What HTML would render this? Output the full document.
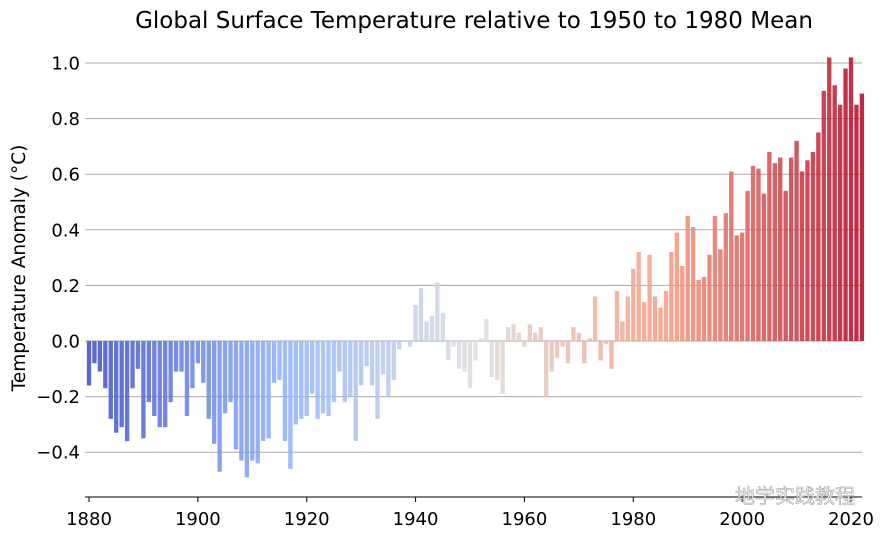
<!DOCTYPE html>
<html><head><meta charset="utf-8"><style>
body{margin:0;background:#fff;}
svg text{font-family:"DejaVu Sans","Liberation Sans",sans-serif;}
</style></head><body>
<svg id="chart" width="882" height="537" xmlns="http://www.w3.org/2000/svg">
<text x="474" y="28" font-size="23" text-anchor="middle" fill="#000">Global Surface Temperature relative to 1950 to 1980 Mean</text>
<text transform="translate(25,268) rotate(-90)" font-size="18.5" text-anchor="middle" fill="#000">Temperature Anomaly (°C)</text>
<g id="grid"></g><g id="bars"></g><g id="axes"></g>
<text x="855" y="503" font-size="20" text-anchor="end" fill="#eee" stroke="#999" stroke-width="0.5" style="font-family:'Liberation Sans','Noto Sans CJK SC',sans-serif">地学实践教程</text>
</svg>
<script>
const startYear = 1880;
const anomalies = [-0.16,-0.08,-0.11,-0.17,-0.28,-0.33,-0.31,-0.36,-0.17,-0.10,-0.35,-0.22,-0.27,-0.31,-0.31,-0.22,-0.11,-0.11,-0.27,-0.17,-0.08,-0.15,-0.28,-0.37,-0.47,-0.26,-0.22,-0.39,-0.43,-0.49,-0.43,-0.44,-0.36,-0.35,-0.15,-0.14,-0.36,-0.46,-0.30,-0.28,-0.27,-0.19,-0.28,-0.26,-0.27,-0.22,-0.11,-0.22,-0.20,-0.36,-0.16,-0.09,-0.16,-0.28,-0.12,-0.20,-0.14,-0.03,0.00,-0.02,0.13,0.19,0.07,0.09,0.21,0.10,-0.07,-0.02,-0.10,-0.11,-0.17,-0.07,0.01,0.08,-0.13,-0.14,-0.19,0.05,0.06,0.03,-0.02,0.06,0.03,0.05,-0.20,-0.11,-0.06,-0.02,-0.08,0.05,0.03,-0.08,0.01,0.16,-0.07,-0.01,-0.10,0.18,0.07,0.16,0.26,0.32,0.14,0.31,0.16,0.12,0.18,0.32,0.39,0.27,0.45,0.41,0.22,0.23,0.31,0.45,0.33,0.46,0.61,0.38,0.39,0.54,0.63,0.62,0.53,0.68,0.64,0.66,0.54,0.66,0.72,0.61,0.65,0.68,0.75,0.90,1.02,0.92,0.85,0.98,1.02,0.85,0.89];
const yTicks = [-0.4,-0.2,0.0,0.2,0.4,0.6,0.8,1.0];
const xTicks = [1880,1900,1920,1940,1960,1980,2000,2020];
const NS="http://www.w3.org/2000/svg";
const xL=85,xR=862,axisY=497;
function X(yr){return 89+(yr-1880)*(851-89)/140;}
function Y(v){return 341-v*278;}
const anchors=[[0,[59,76,192]],[0.25,[141,176,254]],[0.5,[221,221,221]],[0.75,[244,154,123]],[1,[180,4,38]]];
function cw(t){for(let i=1;i<anchors.length;i++){if(t<=anchors[i][0]){const a=anchors[i-1],b=anchors[i];const f=(t-a[0])/(b[0]-a[0]);return 'rgb('+a[1].map((c,k)=>Math.round(c+(b[1][k]-c)*f)).join(',')+')';}}return 'rgb(180,4,38)';}
function mk(tag,attrs,parent){const e=document.createElementNS(NS,tag);for(const k in attrs)e.setAttribute(k,attrs[k]);parent.appendChild(e);return e;}
const grid=document.getElementById('grid'),bars=document.getElementById('bars'),axes=document.getElementById('axes');
yTicks.forEach(v=>{
 const l=mk('line',{x1:xL,x2:xR,y1:Y(v),y2:Y(v),stroke:'#aaaaaa','stroke-width':1},grid);
 
 
 const t=mk('text',{x:80,y:Y(v)+6.5,'font-size':18,'text-anchor':'end',fill:'#000'},axes);
 t.textContent=v.toFixed(1).replace('-','−');
 
 
});
const w=(851-89)/140*0.8;
const n=anomalies.length;
anomalies.forEach((v,i)=>{
 const x=X(startYear+i);
 const r=mk('rect',{x:x-w/2,y:Math.min(Y(v),Y(0)),width:w,height:Math.abs(Y(v)-Y(0)),fill:cw(i/(n-1)),'fill-opacity':0.85},bars);
 
 
});
const ax=mk('line',{x1:xL,x2:xR,y1:axisY,y2:axisY,stroke:'#000','stroke-width':1},axes);


xTicks.forEach(yr=>{
 const tk=mk('line',{x1:X(yr),x2:X(yr),y1:axisY,y2:axisY+5,stroke:'#000'},axes);
 
 
 const t=mk('text',{x:X(yr),y:525,'font-size':18,'text-anchor':'middle',fill:'#000'},axes);
 t.textContent=yr;
 
 
});
</script>
</body></html>
